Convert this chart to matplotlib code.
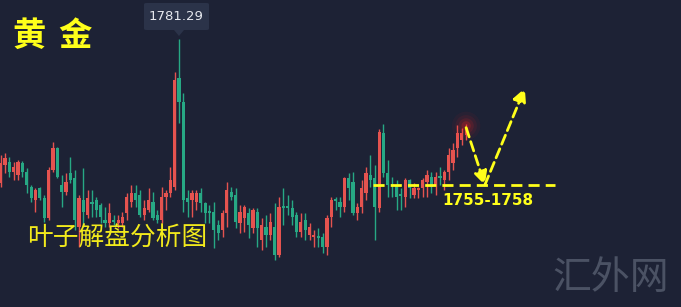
import matplotlib
matplotlib.use("Agg")
import matplotlib.pyplot as plt
from matplotlib.patches import Rectangle, FancyBboxPatch, Polygon
import numpy as np

plt.rcParams['font.family'] = ['Noto Sans CJK SC', 'DejaVu Sans']

# ---- data (gold price candles) ----
opens = [1756.9, 1760.0, 1760.5, 1758.8, 1758.3, 1760.3, 1758.8, 1756.2, 1754.0, 1756.0,
         1754.3, 1750.9, 1759.1, 1762.8, 1756.6, 1755.4, 1758.6, 1757.7, 1749.4, 1754.0,
         1751.5, 1753.7, 1754.0, 1753.2, 1750.6, 1750.1, 1750.6, 1750.1, 1750.1, 1751.8,
         1753.7, 1755.2, 1754.9, 1751.5, 1752.3, 1753.7, 1751.5, 1750.6, 1754.5, 1755.2,
         1756.2, 1774.7, 1770.7, 1754.3, 1754.0, 1753.7, 1755.2, 1753.5, 1752.1, 1752.0,
         1749.8, 1748.9, 1751.8, 1755.4, 1754.9, 1750.1, 1750.9, 1751.8, 1749.2, 1752.0,
         1747.2, 1749.4, 1748.1, 1749.4, 1744.7, 1752.8, 1752.8, 1752.6, 1751.5, 1748.6,
         1750.6, 1748.1, 1747.7, 1747.9, 1747.7, 1746.0, 1751.1, 1754.2, 1753.7, 1752.8,
         1757.7, 1757.1, 1751.8, 1752.8, 1755.2, 1758.3, 1757.7, 1752.6, 1765.4, 1758.6,
         1756.6, 1756.6, 1754.9, 1754.5, 1757.4, 1754.9, 1755.7, 1756.0, 1757.1, 1757.9,
         1756.6, 1757.9, 1757.4, 1758.8, 1760.3, 1762.8, 1764.2, 1765.1]
highs = [1761.7, 1762.0, 1761.3, 1760.5, 1760.8, 1760.6, 1759.4, 1756.6, 1756.0, 1756.2,
         1754.9, 1759.6, 1763.9, 1763.0, 1758.3, 1758.6, 1761.3, 1759.1, 1754.9, 1759.4,
         1755.7, 1755.7, 1754.5, 1753.5, 1752.8, 1753.5, 1751.5, 1751.5, 1752.0, 1755.2,
         1756.6, 1756.6, 1755.7, 1754.0, 1756.0, 1755.4, 1752.3, 1756.2, 1755.7, 1759.6,
         1775.8, 1781.29, 1772.2, 1755.7, 1755.7, 1755.7, 1756.0, 1753.7, 1753.2, 1753.7,
         1750.6, 1752.3, 1757.1, 1756.2, 1756.0, 1753.2, 1753.2, 1752.6, 1752.6, 1752.6,
         1750.9, 1751.5, 1751.8, 1753.5, 1754.5, 1756.0, 1754.9, 1754.0, 1752.0, 1751.8,
         1751.8, 1750.1, 1748.9, 1749.2, 1748.4, 1751.5, 1754.5, 1754.5, 1754.5, 1757.9,
         1758.6, 1758.8, 1753.5, 1757.4, 1759.6, 1761.7, 1760.0, 1766.1, 1766.9, 1760.8,
         1757.9, 1757.4, 1756.0, 1757.7, 1757.5, 1756.9, 1756.2, 1757.7, 1759.1, 1758.8,
         1758.8, 1759.6, 1759.1, 1762.8, 1763.7, 1766.8, 1766.2, 1766.9]
lows = [1756.2, 1758.6, 1757.9, 1757.4, 1757.4, 1757.9, 1755.2, 1753.7, 1752.0, 1754.0,
        1750.3, 1750.6, 1758.8, 1757.7, 1752.8, 1754.9, 1756.9, 1748.9, 1746.0, 1749.4,
        1750.9, 1751.1, 1751.1, 1750.1, 1749.4, 1749.4, 1749.8, 1749.2, 1749.4, 1750.6,
        1752.8, 1752.8, 1751.1, 1750.6, 1752.0, 1750.6, 1750.1, 1750.1, 1752.3, 1754.5,
        1755.7, 1767.1, 1752.0, 1751.1, 1751.1, 1752.3, 1752.0, 1750.1, 1750.1, 1745.8,
        1747.2, 1747.7, 1749.4, 1754.0, 1749.2, 1748.4, 1748.6, 1747.5, 1748.4, 1746.0,
        1745.5, 1746.0, 1747.2, 1743.8, 1744.3, 1749.8, 1751.5, 1749.8, 1747.7, 1747.7,
        1747.2, 1747.2, 1746.0, 1746.0, 1745.0, 1744.7, 1749.4, 1752.3, 1751.1, 1752.0,
        1754.0, 1751.5, 1750.6, 1751.8, 1754.0, 1756.2, 1747.2, 1752.0, 1757.9, 1754.5,
        1754.5, 1752.3, 1752.3, 1752.8, 1754.3, 1754.3, 1754.3, 1754.5, 1754.5, 1755.2,
        1754.9, 1756.6, 1755.7, 1757.4, 1759.1, 1761.3, 1763.4, 1764.2]
closes = [1760.3, 1761.1, 1758.8, 1759.6, 1760.5, 1758.8, 1756.6, 1754.3, 1755.7, 1754.3,
          1750.9, 1759.1, 1762.8, 1757.9, 1755.4, 1757.1, 1757.4, 1750.6, 1754.3, 1752.0,
          1754.3, 1753.3, 1752.3, 1751.1, 1750.1, 1751.8, 1750.3, 1750.6, 1751.1, 1754.5,
          1755.2, 1754.0, 1751.5, 1752.6, 1754.0, 1750.9, 1750.6, 1754.5, 1755.2, 1757.4,
          1774.4, 1770.7, 1754.0, 1753.7, 1755.2, 1755.2, 1753.5, 1751.8, 1751.8, 1748.9,
          1748.4, 1751.8, 1755.7, 1754.5, 1750.3, 1752.0, 1752.8, 1749.8, 1752.3, 1749.2,
          1749.8, 1748.1, 1750.3, 1744.7, 1752.8, 1752.6, 1752.6, 1751.1, 1748.6, 1750.3,
          1748.9, 1749.4, 1748.1, 1747.5, 1746.0, 1750.9, 1754.0, 1753.8, 1752.8, 1757.7,
          1756.0, 1751.8, 1752.8, 1756.0, 1758.6, 1757.4, 1752.8, 1765.6, 1758.6, 1756.6,
          1756.4, 1754.5, 1754.7, 1757.4, 1756.0, 1756.0, 1756.0, 1757.4, 1758.3, 1756.2,
          1757.9, 1757.7, 1758.8, 1761.7, 1762.5, 1765.4, 1765.4, 1766.2]

title_chars = ["黄", "金"]
subtitle_text = "叶子解盘分析图"
watermark_text = "汇外网"
peak_label = "1781.29"
zone_label = "1755-1758"
zone_level = 1756.55
arrow_path_x = [107.0, 111.3, 120.5]
arrow_path_y = [1766.3, 1756.55, 1773.0]

BG = "#1d2235"
UP = "#e5534f"
DOWN = "#27a884"
YEL = "#ffff1a"

W, H = 681, 307
fig = plt.figure(figsize=(W / 100, H / 100), dpi=100)
fig.patch.set_facecolor(BG)
ax = fig.add_axes([0, 0, 1, 1])
ax.set_facecolor(BG)
ax.set_axis_off()
ax.set_xlim(-0.16, 156.4)
ax.set_ylim(1788 - 0.17 * H, 1788)

bw = 0.74
for i, (o, h, l, c) in enumerate(zip(opens, highs, lows, closes)):
    col = UP if c >= o else DOWN
    ax.vlines(i, l, h, color=col, linewidth=1.0, zorder=2)
    lo = min(o, c)
    ht = max(abs(c - o), 0.3)
    ax.add_patch(Rectangle((i - bw / 2, lo), bw, ht, facecolor=col,
                           edgecolor='none', zorder=3))

# red glow at the latest candle top
for s, a in [(420, 0.05), (240, 0.08), (120, 0.12), (45, 0.2)]:
    ax.scatter([107], [1766.6], s=s, color="#ff2020", alpha=a,
               edgecolors='none', zorder=4)

# dashed support zone
ax.hlines(zone_level, 85.6, 127.4, colors=YEL, linestyles=(0, (4, 2.2)),
          linewidth=2.0, zorder=5)
ax.text(112.0, 1754.0, zone_label, color=YEL, fontsize=11, fontweight='bold',
        family=['DejaVu Sans'], ha='center', va='center', zorder=6)

# dashed arrows
for k in range(2):
    x0, y0 = arrow_path_x[k], arrow_path_y[k]
    x1, y1 = arrow_path_x[k + 1], arrow_path_y[k + 1]
    ax.annotate("", xy=(x1, y1), xytext=(x0, y0),
                arrowprops=dict(arrowstyle="-|>,head_length=0.8,head_width=0.4",
                                color=YEL, lw=2.0, linestyle=(0, (3.5, 1.8)),
                                shrinkA=0, shrinkB=0),
                zorder=6)

# titles
for cx, ch in zip([12, 58], title_chars):
    fig.text(cx / W, 1 - 36 / H, ch, color=YEL, fontsize=24,
             fontweight='bold', ha='left', va='center')
fig.text(27 / W, 1 - 239 / H, subtitle_text, color="#f2ea1c", fontsize=18.5,
         ha='left', va='center')
fig.text(552 / W, 1 - 278 / H, watermark_text, color="#4b5264", fontsize=28,
         fontweight='light', ha='left', va='center')

# tooltip for the peak
box = FancyBboxPatch((144 / W, 1 - 30 / H), 65 / W, 27 / H,
                     boxstyle="round,pad=0,rounding_size=0.004",
                     transform=fig.transFigure, facecolor="#2b3349",
                     edgecolor='none', zorder=7)
fig.patches.append(box)
tri = Polygon([(174 / W, 1 - 30 / H), (184 / W, 1 - 30 / H), (179 / W, 1 - 36 / H)],
              closed=True, transform=fig.transFigure, facecolor="#2b3349",
              edgecolor='none', zorder=7)
fig.patches.append(tri)
fig.text(176.5 / W, 1 - 16.5 / H, peak_label, color="#e6e8ee", fontsize=9.5,
         family=['DejaVu Sans'], ha='center', va='center', zorder=8)

fig.savefig("out.png", dpi=100, facecolor=BG)
